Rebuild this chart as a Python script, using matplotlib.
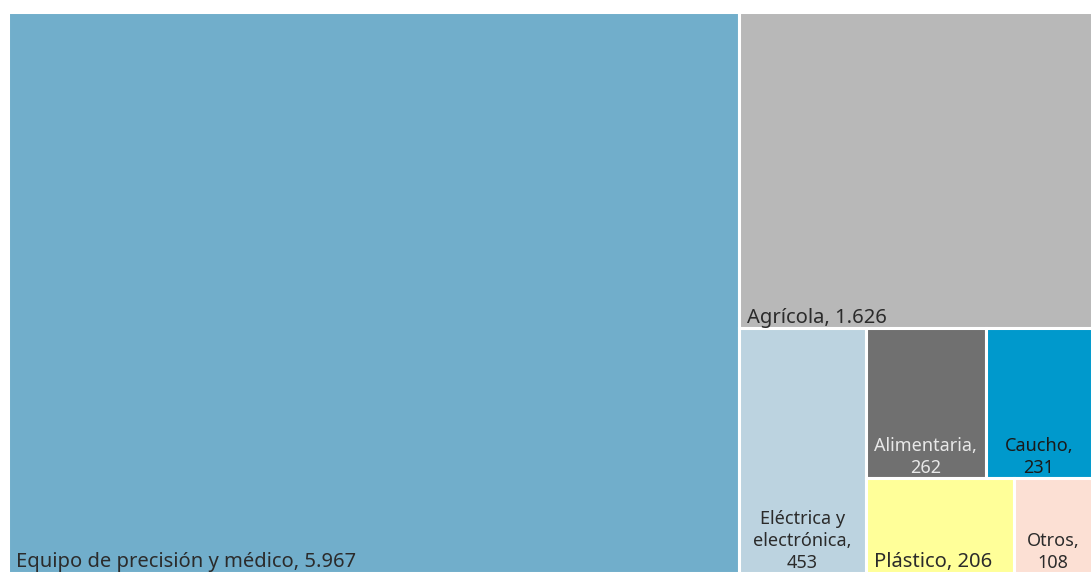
import matplotlib
matplotlib.use("Agg")
import matplotlib.pyplot as plt
from matplotlib.patches import Rectangle

categories = ["Equipo de precisión y médico", "Agrícola", "Eléctrica y electrónica",
              "Alimentaria", "Caucho", "Plástico", "Otros"]
values = [5967, 1626, 453, 262, 231, 206, 108]
value_labels = ["5.967", "1.626", "453", "262", "231", "206", "108"]
colors = ["#71AECB", "#B8B8B8", "#BCD3E0", "#707070", "#0099CC", "#FFFF99", "#FCE0D4"]
text_colors = ["#2b2b2b", "#2b2b2b", "#2b2b2b", "#E8E8E8", "#1a1a1a", "#2b2b2b", "#2b2b2b"]
label_text = ["Equipo de precisión y médico, 5.967", "Agrícola, 1.626",
              "Eléctrica y\nelectrónica,\n453", "Alimentaria,\n262", "Caucho,\n231",
              "Plástico, 206", "Otros,\n108"]
label_mode = ["left", "left", "center", "center", "center", "left", "center"]

W, H = 1084.0, 561.0
total = sum(values)
rects = {}
w_main = W * values[0] / total
rects[0] = (0, 0, w_main, H)
rest = sum(values[1:])
xr = w_main
wr = W - w_main
h_agr = H * values[1] / rest
rects[1] = (xr, H - h_agr, wr, h_agr)
h_low = H - h_agr
lower = sum(values[2:])
w_ele = wr * values[2] / lower
rects[2] = (xr, 0, w_ele, h_low)
xs = xr + w_ele
ws = wr - w_ele
small = sum(values[3:])
h_top = h_low * (values[3] + values[4]) / small
w_ali = ws * values[3] / (values[3] + values[4])
rects[3] = (xs, h_low - h_top, w_ali, h_top)
rects[4] = (xs + w_ali, h_low - h_top, ws - w_ali, h_top)
h_bot = h_low - h_top
w_pla = ws * values[5] / (values[5] + values[6])
rects[5] = (xs, 0, w_pla, h_bot)
rects[6] = (xs + w_pla, 0, ws - w_pla, h_bot)

fig = plt.figure(figsize=(10.92, 5.73), dpi=100)
ax = fig.add_axes([8 / 1092, 0, 1084 / 1092, 561 / 573])
ax.set_xlim(0, W)
ax.set_ylim(0, H)
ax.axis("off")

for i in range(len(values)):
    x, y, w, h = rects[i]
    ax.add_patch(Rectangle((x, y), w, h, facecolor=colors[i], edgecolor="white", linewidth=2.2))
    if label_mode[i] == "left":
        ax.text(x + 8, y + 0.5, label_text[i], ha="left", va="bottom", fontsize=14.5,
                color=text_colors[i], family="Noto Sans")
    else:
        ax.text(x + w / 2, y + 0.5, label_text[i], ha="center", va="bottom", fontsize=13,
                color=text_colors[i], family="Noto Sans", linespacing=1.3,
                multialignment="center")

fig.savefig("out.png", dpi=100)
